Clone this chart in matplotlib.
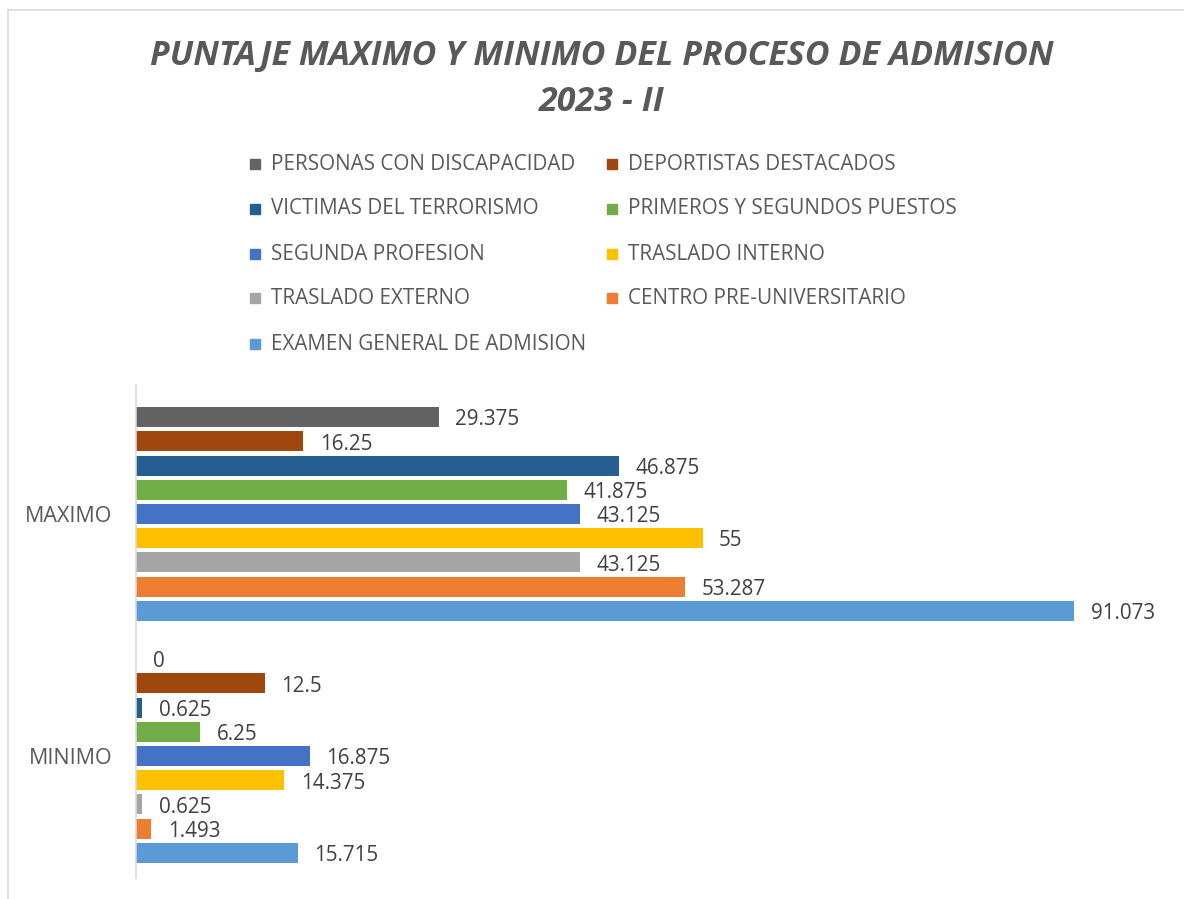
import numpy as np
import matplotlib
matplotlib.use("Agg")
import matplotlib.pyplot as plt
from matplotlib.patches import Rectangle

# ── Data ───────────────────────────────────────────────────────────────────────
CATEGORIES = ["MINIMO", "MAXIMO"]
SERIES = [
    "PERSONAS CON DISCAPACIDAD", "DEPORTISTAS DESTACADOS",
    "VICTIMAS DEL TERRORISMO", "PRIMEROS Y SEGUNDOS PUESTOS",
    "SEGUNDA PROFESION", "TRASLADO INTERNO",
    "TRASLADO EXTERNO", "CENTRO PRE-UNIVERSITARIO",
    "EXAMEN GENERAL DE ADMISION",
]
COLORS = [
    "#636363", "#9e480e", "#255e91", "#70ad47",
    "#4472c4", "#ffc000", "#a5a5a5", "#ed7d31", "#5b9bd5",
]
MAXIMO = [29.375, 16.25, 46.875, 41.875, 43.125, 55, 43.125, 53.287, 91.073]
MINIMO = [0, 12.5, 0.625, 6.25, 16.875, 14.375, 0.625, 1.493, 15.715]
LABELS_MAX = ["29.375", "16.25", "46.875", "41.875", "43.125", "55", "43.125", "53.287", "91.073"]
LABELS_MIN = ["0", "12.5", "0.625", "6.25", "16.875", "14.375", "0.625", "1.493", "15.715"]

TXT = "#595959"
LBL = "#404040"
FONT = "Open Sans"
plt.rcParams["font.family"] = [FONT, "DejaVu Sans"]

W, H = 1184, 899
fig = plt.figure(figsize=(W / 100, H / 100), dpi=100)

# chart frame (Excel chart area border)
fig.patches.append(Rectangle((8 / W, -0.1), 1.2, 1 - 10 / H + 0.1,
                             transform=fig.transFigure, fill=False,
                             edgecolor="#d9d9d9", lw=1.2))

fig.text(0.508, 1 - 56 / H, "PUNTAJE MAXIMO Y MINIMO DEL PROCESO DE ADMISION",
         ha="center", va="center", fontsize=24.5, fontweight="bold",
         fontstyle="italic", color=TXT)
fig.text(0.508, 1 - 102 / H, "2023 - II", ha="center", va="center",
         fontsize=24.5, fontweight="bold", fontstyle="italic", color=TXT)

# ── Legend (row-major like Excel) ──────────────────────────────────────────────
col_x = [255, 612]
row_y = [164, 209, 254, 298, 344]
for i, (name, c) in enumerate(zip(SERIES, COLORS)):
    x, y = col_x[i % 2], row_y[i // 2]
    fig.patches.append(Rectangle(((x - 5) / W, 1 - (y + 5) / H), 10 / W, 10 / H,
                                 transform=fig.transFigure, color=c))
    fig.text((x + 16) / W, 1 - y / H, name, ha="left", va="center",
             fontsize=14.9, color=TXT)

# ── Bars ───────────────────────────────────────────────────────────────────────
ax = fig.add_axes([136 / W, 1 - 878 / H, (1166 - 136) / W, (878 - 385) / H])
pos = np.arange(len(CATEGORIES))
step, bh = 0.1, 0.083
n = len(SERIES)
for i, (name, c) in enumerate(zip(SERIES, COLORS)):
    vals = [MINIMO[i], MAXIMO[i]]
    labs = [LABELS_MIN[i], LABELS_MAX[i]]
    y = pos + (n // 2 - i) * step
    ax.barh(y, vals, height=bh, color=c, label=name)
    for yy, v, t in zip(y, vals, labs):
        ax.annotate(t, (v, yy), xytext=(12, -2), textcoords="offset points",
                    ha="left", va="center", fontsize=14.9, color=LBL)

ax.set_xlim(0, 100)
ax.set_ylim(-0.504, 1.533)
ax.set_yticks(pos)
ax.set_yticklabels(CATEGORIES, fontsize=15.5, color=TXT)
ax.tick_params(axis="y", length=0, pad=17)
ax.set_xticks([])
for s in ["top", "right", "bottom"]:
    ax.spines[s].set_visible(False)
ax.spines["left"].set_color("#d9d9d9")
ax.spines["left"].set_linewidth(1.2)

fig.savefig("out.png", dpi=100)
